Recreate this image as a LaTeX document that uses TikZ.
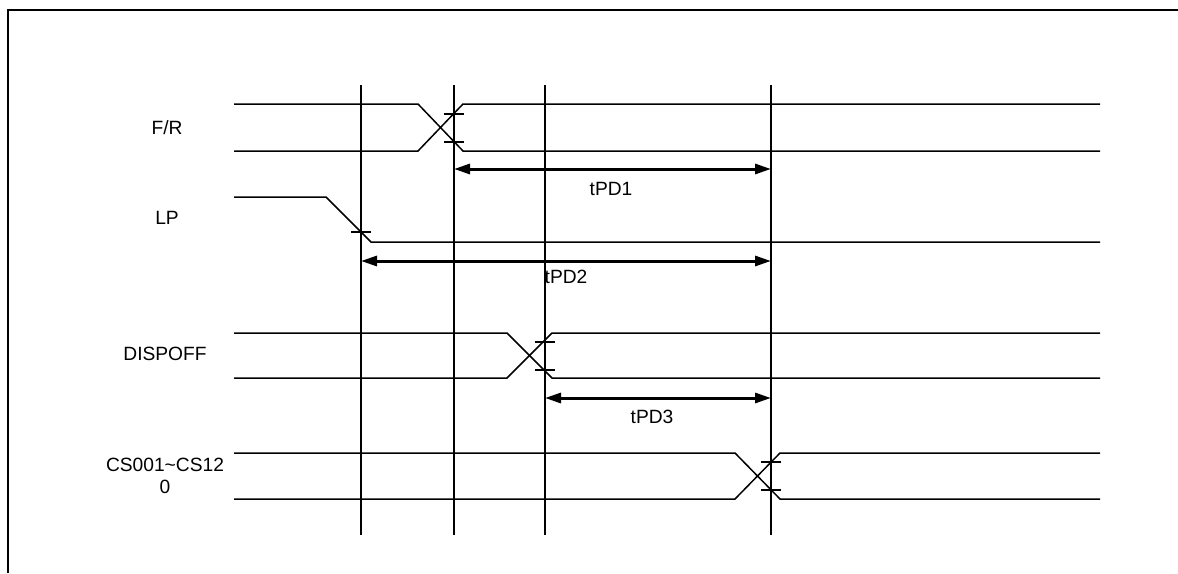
\documentclass[tikz,border=0pt]{standalone}
\usepackage{fontspec}
\setmainfont{Liberation Sans}
\usetikzlibrary{arrows.meta}
\tikzset{
  sig/.style={line width=0.75pt},
  mark line/.style={line width=1pt},
  tick/.style={line width=0.6pt},
  span/.style={line width=1.5pt,{Triangle[length=8pt,width=5pt]}-{Triangle[length=8pt,width=5pt]}},
  lbl/.style={font=\fontsize{9.6}{11}\selectfont,inner sep=0pt,align=center}
}
\begin{document}
\begin{tikzpicture}[x=0.5pt,y=-0.5pt]
      \useasboundingbox (0,0) rectangle (1178,573);
      \draw[line width=1pt] (8,573) -- (8,10) -- (1178,10);
      % timing marks
      \draw
        (361,85) coordinate (m1t) (361,535) coordinate (m1b)
        (454,85) coordinate (m2t) (454,535) coordinate (m2b)
        (545,85) coordinate (m3t) (545,535) coordinate (m3b)
        (771,85) coordinate (m4t) (771,535) coordinate (m4b);
      \begin{scope}[mark line]
        \draw (m1t) to (m1b);
        \draw (m2t) to (m2b);
        \draw (m3t) to (m3b);
        \draw (m4t) to (m4b);
      \end{scope}
      % signal names
      \draw
        (167,128) node[lbl] (fr){F/R}
        (167,218) node[lbl] (lp){LP}
        (165,354) node[lbl] (dispoff){DISPOFF}
        (165,476) node[lbl] (cs){CS001\textasciitilde CS12\\0};
      % waveforms
      \begin{scope}[sig]
        \draw (234,104) -- (418,104) -- (463,151) -- (1100,151);
        \draw (234,151) -- (418,151) -- (463,104) -- (1100,104);
        \draw (234,197) -- (326,197) -- (371,242) -- (1100,242);
        \draw (234,333) -- (507,333) -- (552,378) -- (1100,378);
        \draw (234,378) -- (507,378) -- (552,333) -- (1100,333);
        \draw (234,453) -- (735,453) -- (780,499) -- (1100,499);
        \draw (234,499) -- (735,499) -- (780,453) -- (1100,453);
      \end{scope}
      \begin{scope}[tick]
        \draw (444,114) -- (464,114);
        \draw (444,142) -- (464,142);
        \draw (351,232) -- (371,232);
        \draw (535,342) -- (555,342);
        \draw (535,370) -- (555,370);
        \draw (761,462) -- (781,462);
        \draw (761,490) -- (781,490);
      \end{scope}
      % delays
      \draw
        (m2t |- 0,169) coordinate (d1a) (m4t |- 0,169) coordinate (d1b)
        (m1t |- 0,261) coordinate (d2a) (m4t |- 0,261) coordinate (d2b)
        (m3t |- 0,398) coordinate (d3a) (m4t |- 0,398) coordinate (d3b);
      \begin{scope}[span]
        \draw (d1a) to (d1b);
        \draw (d2a) to (d2b);
        \draw (d3a) to (d3b);
      \end{scope}
      \draw
        (611,189) node[lbl] (tpd1){tPD1}
        (566,277) node[lbl] (tpd2){tPD2}
        (652,417) node[lbl] (tpd3){tPD3};
    \end{tikzpicture}
\end{document}
